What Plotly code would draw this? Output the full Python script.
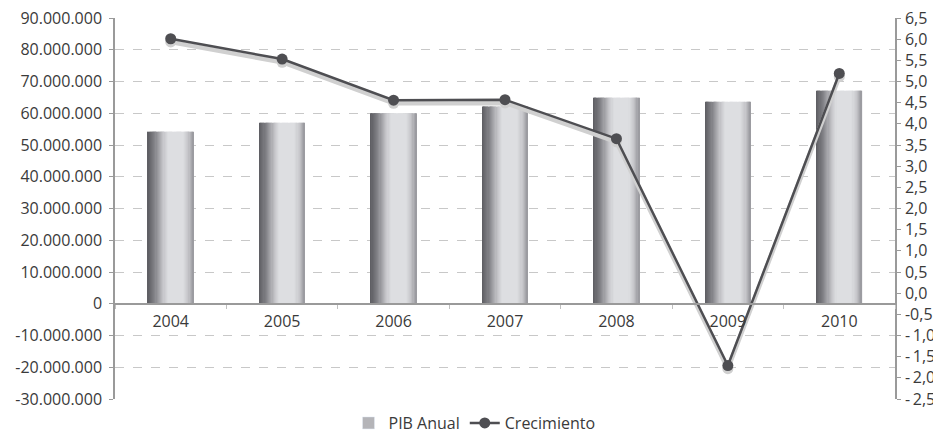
import plotly.graph_objects as go

# datos
years = ['2004', '2005', '2006', '2007', '2008', '2009', '2010']
pib_anual = [54200000, 57000000, 60000000, 62100000, 64900000, 63600000, 67100000]
crecimiento = [6.01, 5.53, 4.56, 4.57, 3.65, -1.71, 5.19]

left_ticks = [-30000000, -20000000, -10000000, 0, 10000000, 20000000, 30000000,
              40000000, 50000000, 60000000, 70000000, 80000000, 90000000]
left_labels = ['-30.000.000', '-20.000.000', '-10.000.000', '0', '10.000.000', '20.000.000',
               '30.000.000', '40.000.000', '50.000.000', '60.000.000', '70.000.000',
               '80.000.000', '90.000.000']
right_ticks = [-2.5, -2.0, -1.5, -1.0, -0.5, 0.0, 0.5, 1.0, 1.5, 2.0, 2.5, 3.0, 3.5,
               4.0, 4.5, 5.0, 5.5, 6.0, 6.5]
right_labels = ['-\u20092,5', '-\u20092,0', '-\u20091,5', '-\u20091,0', '-0,5', '0,0', '0,5',
                '1,0', '1,5', '2,0', '2,5', '3,0', '3,5', '4,0', '4,5', '5,0', '5,5', '6,0', '6,5']

# cilindro: franjas verticales para imitar el degradado de las barras
stops = [(0.0, (92, 92, 97)), (0.15, (128, 128, 133)), (0.35, (198, 198, 202)),
         (0.45, (221, 222, 225)), (0.78, (221, 222, 225)), (0.9, (196, 196, 200)),
         (1.0, (150, 150, 155))]


def grad(t):
    for (t0, c0), (t1, c1) in zip(stops[:-1], stops[1:]):
        if t <= t1:
            f = (t - t0) / (t1 - t0)
            return 'rgb(%d,%d,%d)' % tuple(round(a + (b - a) * f) for a, b in zip(c0, c1))
    return 'rgb(%d,%d,%d)' % stops[-1][1]


n_strips = 40
bar_w = 0.41
fig = go.Figure()
for i in range(n_strips):
    last = i == n_strips - 1
    fig.add_trace(go.Bar(
        x=years, y=pib_anual, name='PIB Anual',
        width=bar_w / n_strips + (0 if last else 0.004),
        offset=-bar_w / 2 + i * bar_w / n_strips,
        marker=dict(color=grad((i + 0.5) / n_strips), line=dict(width=0)),
        showlegend=False, hoverinfo='skip',
    ))
# entrada de leyenda
fig.add_trace(go.Bar(x=[None], y=[None], name='PIB Anual', marker=dict(color='#b4b4b8')))

# sombra de la linea (eje oculto desplazado)
fig.add_trace(go.Scatter(
    x=years, y=crecimiento, yaxis='y2', mode='lines+markers', showlegend=False,
    line=dict(color='#d0d0d0', width=4.5),
    marker=dict(color='#d0d0d0', size=11), hoverinfo='skip',
))
fig.add_trace(go.Scatter(
    x=years, y=crecimiento, yaxis='y3', mode='lines+markers', name='Crecimiento',
    line=dict(color='#4e4e52', width=2.5),
    marker=dict(color='#4e4e52', size=11),
))

font = dict(family='Open Sans, Noto Sans, sans-serif', size=16, color='#3a3a3a')
shift = 0.075

# la pagina tiene 8px de margen en el body
fig.update_layout(
    width=933, height=432,
    margin=dict(l=107, r=46, t=10, b=41, autoexpand=False),
    paper_bgcolor='white', plot_bgcolor='white',
    font=font, barmode='overlay',
    legend=dict(orientation='h', xref='container', x=0.5, xanchor='center',
                yref='container', y=0.0, yanchor='bottom', font=dict(size=16),
                tracegroupgap=0),
    xaxis=dict(type='category', range=[-0.5, 6.5], anchor='free', position=0.25,
               showline=True, linecolor='#9a9a9a', linewidth=1.5,
               ticks='outside', tickson='boundaries', ticklen=4, tickcolor='#c0c0c0',
               ticklabelstandoff=3, showgrid=False, zeroline=False, automargin=False),
    yaxis=dict(range=[-30000000, 90000000], tickvals=left_ticks, ticktext=left_labels,
               showline=True, linecolor='#9a9a9a', linewidth=1.5, ticks='outside', ticklen=4,
               tickcolor='#9a9a9a', ticklabelstandoff=4, ticklabeloverflow='allow',
               showgrid=True, gridcolor='#c8c8c8', griddash='dash',
               gridwidth=1, zeroline=False, automargin=False),
    yaxis2=dict(range=[-2.5 + shift, 6.5 + shift], overlaying='y', visible=False),
    yaxis3=dict(range=[-2.5, 6.5], tickvals=right_ticks, ticktext=right_labels,
                overlaying='y', side='right', showline=True, linecolor='#9a9a9a',
                linewidth=1.5, ticks='outside', ticklen=4, tickcolor='#9a9a9a',
                ticklabelstandoff=1, ticklabeloverflow='allow',
                showgrid=False, zeroline=False, automargin=False),
)

fig.write_html('out.html')
